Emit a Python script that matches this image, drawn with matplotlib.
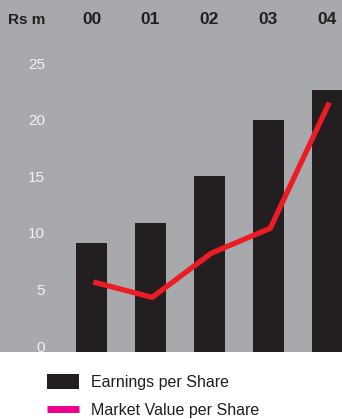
import numpy as np
import matplotlib
matplotlib.use('Agg')
import matplotlib.pyplot as plt
from matplotlib.patches import Patch
from matplotlib.lines import Line2D
import matplotlib.transforms as mtransforms

plt.rcParams['font.family'] = ['Liberation Sans', 'DejaVu Sans']

years = ['00', '01', '02', '03', '04']
eps = [9.1, 10.9, 15.0, 20.0, 22.6]
mvps = [5.65, 4.3, 8.2, 10.4, 21.5]
yticks = [0, 5, 10, 15, 20, 25]

gris = '#a7a9ac'
negro = '#231f20'
rojo = '#ed1c24'
magenta = '#ec008c'

fig = plt.figure(figsize=(3.42, 4.19), dpi=100)
ax = fig.add_axes([0, 67 / 419, 1, 352 / 419])
ax.set_facecolor(gris)
for s in ax.spines.values():
    s.set_visible(False)

x = np.arange(len(years))
ymin, ymax = -0.53, 30.57
ax.set_xlim(-1.551, 4.246)
ax.set_ylim(ymin, ymax)

# barras desde el borde inferior del panel
ax.bar(x, np.array(eps) - ymin, bottom=ymin, width=0.53, color=negro, zorder=2)
ax.plot(x + 0.03, mvps, color=rojo, linewidth=3.8, solid_capstyle='butt', zorder=3)

ax.set_xticks([])
ax.set_yticks(yticks)
ax.set_yticklabels([str(t) for t in yticks])
ax.tick_params(axis='y', length=0, pad=-32.4, labelcolor='#f2f2f2', labelsize=11)

# encabezado con los años
trans = mtransforms.blended_transform_factory(ax.transData, ax.transAxes)
for i, a in enumerate(years):
    ax.text(x[i], 1 - 20 / 352, a, transform=trans, ha='center', va='center',
            fontsize=12.5, fontweight='bold', color=negro)
ax.text(27 / 342, 1 - 20 / 352, 'Rs m', transform=ax.transAxes, ha='center', va='center',
        fontsize=11, fontweight='bold', color=negro)

handles = [Patch(facecolor=negro, edgecolor='none'),
           Line2D([0], [0], color=magenta, linewidth=5, solid_capstyle='butt')]
fig.legend(handles, ['Earnings per Share', 'Market Value per Share'],
           loc='upper left', bbox_to_anchor=(33 / 342, 1 - 360 / 419), frameon=False,
           fontsize=11.5, handlelength=2.0, handleheight=1.0, labelspacing=0.8,
           handletextpad=0.75, labelcolor=negro)

fig.savefig('out.png', dpi=100)
